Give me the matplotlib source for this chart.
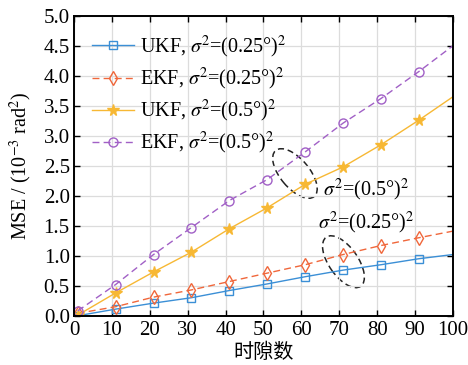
import numpy as np
import matplotlib.pyplot as plt
from matplotlib.patches import Ellipse
from matplotlib.transforms import ScaledTranslation

plt.rcParams['font.family'] = ['Liberation Serif', 'Noto Sans CJK SC']
plt.rcParams['mathtext.fontset'] = 'stix'

# time slots (markers every 10 slots, last point has no marker)
slots = [1, 11, 21, 31, 41, 51, 61, 71, 81, 91, 100]

ukf_025 = [0.00, 0.11, 0.21, 0.30, 0.42, 0.53, 0.65, 0.76, 0.85, 0.95, 1.02]
ekf_025 = [0.04, 0.15, 0.31, 0.43, 0.57, 0.71, 0.85, 1.02, 1.17, 1.30, 1.41]
ukf_05 = [0.01, 0.38, 0.73, 1.06, 1.45, 1.80, 2.19, 2.48, 2.85, 3.26, 3.65]
ekf_05 = [0.08, 0.52, 1.02, 1.47, 1.92, 2.27, 2.73, 3.21, 3.62, 4.07, 4.50]

labels = [r'UKF, $\sigma^2$=(0.25°)$^2$', r'EKF, $\sigma^2$=(0.25°)$^2$',
          r'UKF, $\sigma^2$=(0.5°)$^2$', r'EKF, $\sigma^2$=(0.5°)$^2$']

fig = plt.figure(figsize=(4.68, 3.65), dpi=100)
ax = fig.add_axes([0.158, 0.135, 0.81, 0.822])

mk = list(range(10))
ax.plot(slots, ukf_025, '-', color='#3b8fd6', lw=1.0, marker='s', ms=6,
        mfc='none', markevery=mk, label=labels[0])
ax.plot(slots, ekf_025, '--', color='#f0673b', lw=1.0, marker='d', ms=7,
        mfc='none', markevery=mk, dashes=(5, 3), label=labels[1])
ax.plot(slots, ukf_05, '-', color='#f7b834', lw=1.0, marker='*', ms=8.5,
        markevery=mk, label=labels[2])
ax.plot(slots, ekf_05, '--', color='#a160c6', lw=1.0, marker='o', ms=6.5,
        mfc='none', markevery=mk, dashes=(5, 3), label=labels[3])

ax.set_xlim(0, 100)
ax.set_ylim(0, 5)
ax.set_xticks(np.arange(0, 101, 10))
ax.set_yticks(np.arange(0, 5.01, 0.5))
ax.set_yticklabels([f'{v:.1f}' for v in np.arange(0, 5.01, 0.5)])
ax.grid(True, color='#dcdcdc', lw=0.9)
ax.tick_params(direction='in', top=True, right=True, labelsize=15,
               length=4, width=1)
ax.tick_params(axis='x', pad=4)
ax.tick_params(axis='y', pad=3)
for s in ax.spines.values():
    s.set_linewidth(1.4)

ax.set_xlabel('时隙数', fontsize=14.5, family=['Noto Sans CJK SC'], labelpad=1)
ax.set_ylabel(r'MSE / (10$^{-3}$ rad$^2$)', fontsize=14.5, labelpad=7)

leg = ax.legend(loc='upper left', frameon=False, fontsize=14.5, handlelength=2.1,
                handletextpad=0.3, labelspacing=0.3, borderaxespad=0.5)

# dashed ellipses marking each noise level
for cx, cy, ang in [(58.3, 2.37, -50), (71.1, 0.90, -55)]:
    tr = fig.dpi_scale_trans + ScaledTranslation(cx, cy, ax.transData)
    ax.add_patch(Ellipse((0, 0), 0.60, 0.29, angle=ang, transform=tr,
                         fill=False, ls=(0, (4, 2.5)), lw=1.1, color='#222222'))

ax.text(65.8, 2.1, r'$\sigma^2$=(0.5°)$^2$', fontsize=14.5, va='center', ha='left')
ax.text(64.5, 1.54, r'$\sigma^2$=(0.25°)$^2$', fontsize=14.5, va='center', ha='left')

fig.savefig('out.png', dpi=100)
